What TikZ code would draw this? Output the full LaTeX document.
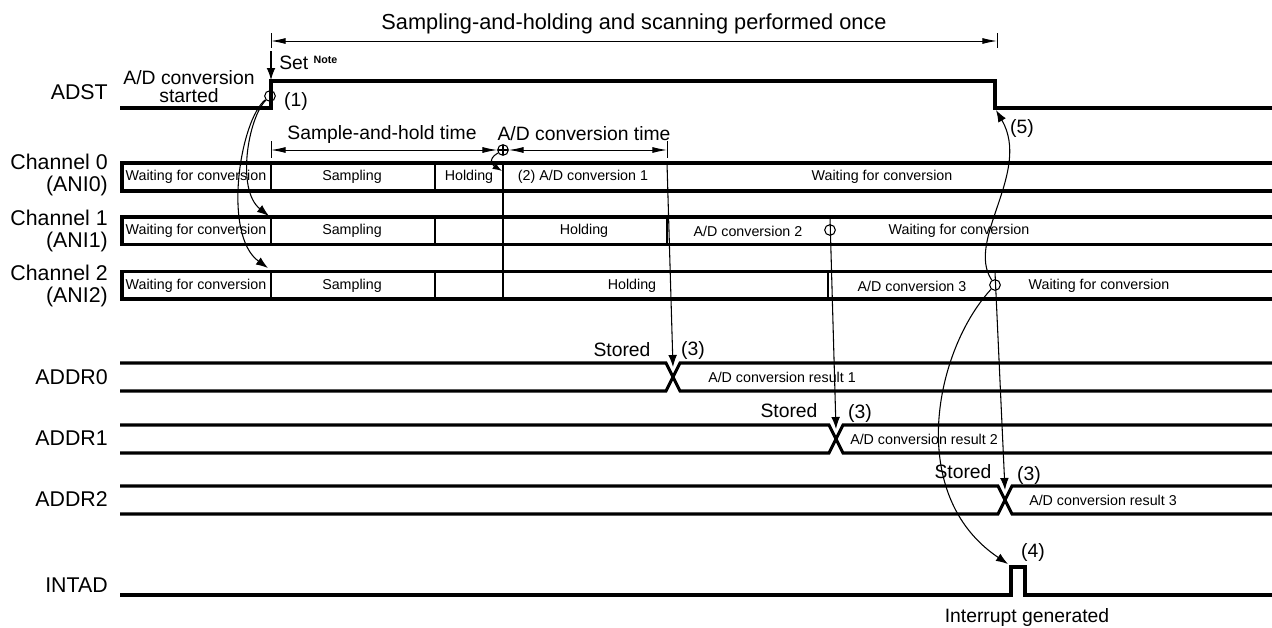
\documentclass[tikz,border=0pt]{standalone}
\usepackage{fontspec}
\setmainfont{Liberation Sans}
\usetikzlibrary{positioning,arrows.meta}

\begin{document}
\begin{tikzpicture}[
  x=0.75pt, y=-0.75pt,
  sig/.style={line width=2.3pt, line join=miter},
  div/.style={line width=1pt},
  lab/.style={font=\fontsize{16}{16.5}\selectfont, align=right, anchor=east, inner sep=0pt},
  txt/.style={font=\fontsize{14.5}{13}\selectfont, inner sep=0pt},
  cell/.style={font=\fontsize{10.7}{12}\selectfont, inner sep=0pt},
  ring/.style={draw, circle, line width=0.8pt, inner sep=0pt, minimum size=8pt},
  conn/.style={line width=0.8pt, -{Latex[length=9pt,width=6.5pt]}},
  dim/.style={line width=0.7pt, {Latex[length=11pt,width=4.5pt]}-{Latex[length=11pt,width=4.5pt]}},
  tick/.style={line width=0.7pt},
]
  \useasboundingbox (0,0) rectangle (1272,628);

  % Signal names
  \node[lab] (adst) at (108,92) {ADST};
  \node[lab] (ch0) at (108,175) {Channel 0\\(ANI0)};
  \node[lab] (ch1) at (108,231) {Channel 1\\(ANI1)};
  \node[lab] (ch2) at (108,286) {Channel 2\\(ANI2)};
  \node[lab] (addr0) at (108,377) {ADDR0};
  \node[lab] (addr1) at (108,438) {ADDR1};
  \node[lab] (addr2) at (108,499) {ADDR2};
  \node[lab] (intad) at (108,585) {INTAD};

  % Top dimension
  \coordinate (tl) at (271,41);
  \coordinate (tr) at (997,41);
  \draw[tick] (271,33) -- (271,48) (997,33) -- (997,48);
  \draw[dim] (tl) -- (tr);
  \node[font=\fontsize{16.3}{17}\selectfont, inner sep=0pt] (once) at (634,24) {Sampling-and-holding and scanning performed once};

  % ADST waveform
  \draw[sig] (120,108) -- (271,108) -- (271,81) -- (995,81) -- (995,108) -- (1272,108);
  \coordinate (setfrom) at (271,51);
  \coordinate (rise) at (271,80);
  \coordinate (fall) at (996,110);
  \draw[conn] (setfrom) -- (rise);
  \node[txt, anchor=west] (set) at (279,63) {Set \raisebox{0.6ex}{\fontsize{8}{9}\selectfont\bfseries Note}};
  \node[txt, align=center, font=\fontsize{14.5}{13.5}\selectfont] (start) at (189,87) {A/D conversion\\started};
  \node[ring] (c1) at (270,96) {};
  \node[txt] (n1) at (296,101) {(1)};

  % Sample-and-hold / conversion time
  \node[ring, path picture={\draw (path picture bounding box.north) -- (path picture bounding box.south) (path picture bounding box.west) -- (path picture bounding box.east);}] (cp) at (503,150) {};
  \coordinate (sl) at (271,150);
  \coordinate (cr) at (667,150);
  \draw[tick] (271,141) -- (271,158) (667,141) -- (667,158);
  \draw[dim] (sl) -- (cp.west);
  \draw[dim] (cp.east) -- (cr);
  \node[txt] (sht) at (382,134) {Sample-and-hold time};
  \node[txt] (adt) at (584,134) {A/D conversion time};

  % Channel boxes
  \draw[sig] (1272,163) -- (122,163) -- (122,191) -- (1272,191);
  \draw[sig] (1272,217) -- (122,217) -- (122,244.5) -- (1272,244.5);
  \draw[sig] (1272,271.5) -- (122,271.5) -- (122,299) -- (1272,299);
  \draw[div] (271,163) -- (271,191) (435,163) -- (435,191);
  \draw[div] (271,217) -- (271,244.5) (435,217) -- (435,244.5) (667,217) -- (667,244.5);
  \draw[div] (271,271.5) -- (271,299) (435,271.5) -- (435,299) (828,271.5) -- (828,299);
  \draw[div] (503,163) -- (503,299);

  % Channel 0 cells
  \node[cell] (w0) at (196,177) {Waiting for conversion};
  \node[cell] (s0) at (352,177) {Sampling};
  \node[cell] (h0) at (469,177) {Holding};
  \node[cell] (a0) at (583,177) {(2) A/D conversion 1};
  \node[cell] (v0) at (882,177) {Waiting for conversion};

  % Channel 1 cells
  \node[cell] (w1) at (196,231) {Waiting for conversion};
  \node[cell] (s1) at (352,231) {Sampling};
  \node[cell] (h1) at (584,231) {Holding};
  \node[cell] (a1) at (748,231) {A/D conversion 2};
  \node[cell] (v1) at (959,231) {Waiting for conversion};

  % Channel 2 cells
  \node[cell] (w2) at (196,286) {Waiting for conversion};
  \node[cell] (s2) at (352,286) {Sampling};
  \node[cell] (h2) at (632,286) {Holding};
  \node[cell] (a2) at (912,286) {A/D conversion 3};
  \node[cell] (v2) at (1099,286) {Waiting for conversion};

  \node[ring] (c2) at (830,230) {};
  \node[ring] (c3) at (995,285) {};

  % ADDR waveforms
  \draw[sig] (120,363) -- (666,363) -- (680,391) -- (1272,391);
  \draw[sig] (120,391) -- (666,391) -- (680,363) -- (1272,363);
  \draw[sig] (120,425) -- (829,425) -- (843,453) -- (1272,453);
  \draw[sig] (120,453) -- (829,453) -- (843,425) -- (1272,425);
  \draw[sig] (120,486) -- (998,486) -- (1012,514) -- (1272,514);
  \draw[sig] (120,514) -- (998,514) -- (1012,486) -- (1272,486);

  \node[txt] (st0) at (622,350) {Stored};
  \node[txt] (k0) at (693,350) {(3)};
  \node[cell] (r0) at (782,377) {A/D conversion result 1};
  \node[txt] (st1) at (789,411) {Stored};
  \node[txt] (k1) at (860,413) {(3)};
  \node[cell] (r1) at (924,439) {A/D conversion result 2};
  \node[txt] (st2) at (963,472) {Stored};
  \node[txt] (k2) at (1029,475) {(3)};
  \node[cell] (r2) at (1103,500) {A/D conversion result 3};

  % INTAD waveform
  \draw[sig] (120,595) -- (1011,595) -- (1011,567) -- (1025,567) -- (1025,595) -- (1272,595);
  \node[txt] (n4) at (1033,552) {(4)};
  \node[txt] (irq) at (1027,617) {Interrupt generated};
  \node[txt] (n5) at (1022,128) {(5)};

  % Connectors
  \coordinate (e0) at (667,163);
  \coordinate (e1) at (830,217);
  \coordinate (e2) at (995,272);
  \coordinate (x0) at (673,367);
  \coordinate (x1) at (836,429);
  \coordinate (x2) at (1005,490);
  \coordinate (p1) at (269,216);
  \coordinate (p2) at (268,268);
  \coordinate (hk) at (502,171);
  \coordinate (pz) at (1008,564);
  \draw[conn] (e0) -- (x0);
  \draw[conn] (e1) -- (x1);
  \draw[conn] (e2) -- (x2);
  \draw[conn] (c1) .. controls (248,118) and (236,190) .. (p1);
  \draw[conn] (c1) .. controls (240,120) and (222,235) .. (p2);
  \draw[line width=0.8pt, -{Latex[length=7pt,width=5pt]}] (cp) .. controls (486,160) and (494,166) .. (hk);
  \draw[conn] (c3) .. controls (965,240) and (1032,172) .. (fall);
  \draw[conn] (c3) .. controls (935,350) and (905,495) .. (pz);
\end{tikzpicture}
\end{document}
